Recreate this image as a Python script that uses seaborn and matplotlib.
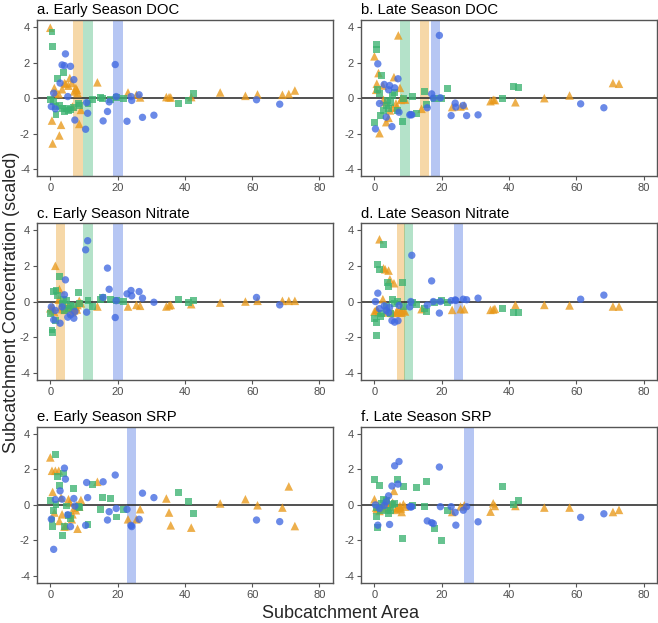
import numpy as np
import pandas as pd
import seaborn as sns
import matplotlib.pyplot as plt

nan = np.nan

# subcatchment areas of each site type (same sites in every panel)
blue_area = [0.3, 1.0, 1.5, 2.9, 3.5, 4.2, 4.5, 5.2, 6.0, 7.0, 7.3, 10.5, 10.8, 11.1, 15.7, 17.0,
             17.5, 19.3, 19.6, 22.8, 24.0, 24.2, 26.4, 27.4, 30.8, 61.3, 68.2]
green_area = [0.1, 0.5, 0.6, 0.9, 1.5, 1.7, 2.2, 2.7, 3.5, 3.9, 4.2, 4.8, 5.5, 6.1, 6.8, 8.4,
              8.6, 11.2, 12.6, 14.8, 15.5, 17.8, 19.8, 21.8, 38.0, 41.2, 42.7]
orange_area = [0.0, 0.5, 0.7, 1.2, 1.5, 2.5, 2.7, 3.2, 3.5, 4.2, 4.6, 5.4, 5.8, 6.4, 6.6, 7.1,
               7.6, 7.9, 8.1, 8.6, 9.1, 14.0, 23.1, 25.6, 26.7, 34.5, 35.3, 35.8, 41.9, 50.5,
               58.0, 61.6, 69.0, 70.9, 72.7]

# scaled concentrations per panel
a_blue = [-0.47, 0.28, -0.6, 0.85, 1.87, 1.83, 2.49, 0.09, 1.79, 1.04, -1.23, -1.75, -0.25, -0.85,
          -1.28, -0.75, -0.21, 1.89, 0.09, -1.3, 0.09, -0.13, 0.19, -1.08, -0.96, -0.09, -0.34]
a_green = [-0.09, 3.72, 2.89, -0.19, -0.47, -0.94, 1.09, -0.43, -0.57, 1.45, -0.75, -0.57, -0.7,
           -0.66, -0.51, -0.28, -0.43, -0.28, -0.09, 0.06, -0.04, -0.09, 0.06, -0.04, -0.28, -0.13, 0.28]
a_orange = [3.96, -1.26, -2.55, 0.57, 0.3, 0.23, -2.1, -1.5, 0.5, 0.85, 0.8, 0.7, 1.13, 0.85, -0.47,
            0.38, 0.57, 0.47, 0.28, -1.45, -0.66, 0.89, 0.32, 0.19, 0.04, 0.06, 0.05, 0.04, 0.06,
            0.32, 0.13, 0.21, 0.19, 0.23, 0.43]

b_blue = [-1.73, 1.93, -0.3, 0.77, -1.07, 0.47, 0.71, -1.6, 0.58, 1.09, -0.79, -0.94, -0.92, -0.94,
          -0.54, 0.24, 0.0, 3.53, 0.02, -0.98, -0.28, -0.5, -0.41, -0.98, -0.94, -0.32, -0.54]
b_green = [-1.35, 3.02, 2.72, 0.47, 0.24, -0.98, 1.28, -0.69, -0.4, -0.13, -0.6, -0.23, 0.15, 0.3,
           -0.69, -1.3, 0.0, 0.11, -0.85, 0.38, -0.38, 0.0, 0.0, 0.56, 0.0, 0.66, 0.58]
b_orange = [2.35, 0.47, 0.81, 1.41, -1.97, 0.71, -0.09, -0.23, -1.35, -1.11, -0.69, -0.54, 1.18,
            -0.3, -0.5, 3.53, 0.58, -0.1, 0.0, -0.05, -0.08, -0.6, -0.5, -0.47, -0.41, -0.17,
            -0.09, -0.11, -0.23, 0.0, 0.15, nan, nan, 0.85, 0.81]

c_blue = [-0.3, -1.03, -0.5, -1.22, -0.3, 0.38, 1.22, -0.88, -0.75, -0.94, -0.56, 2.91, -0.6, 3.42,
          0.23, 1.88, 0.69, -0.9, 0.05, 0.43, 0.62, 0.32, 0.56, 0.19, -0.04, 0.23, -0.19]
c_green = [-0.66, -1.6, -1.75, 0.56, -1.07, 0.6, 0.32, 1.41, -0.1, 0.1, -0.5, 0.04, -0.38, -0.2,
           -0.28, 0.53, -0.1, 0.04, -0.28, 0.1, 0.23, 0.13, 0.04, 0.0, 0.1, -0.04, 0.04]
c_orange = [-0.38, -0.5, -0.3, -0.6, 2.01, 0.1, 0.69, -0.28, -0.43, -0.47, -0.3, -0.19, -0.38,
            -0.43, -0.6, -0.5, -0.3, -0.45, -0.2, 0.04, -0.1, -0.28, -0.28, -0.19, -0.24, -0.28,
            -0.22, -0.19, -0.15, -0.06, 0.0, 0.04, 0.04, 0.04, 0.04]

d_blue = [0.0, 0.47, -0.4, -0.24, -0.5, -0.62, -0.32, -1.07, -1.16, -1.08, -0.22, -0.3, 0.0, 2.6,
          -0.2, 1.16, 0.0, -0.65, 0.0, 0.05, 0.09, 0.06, 0.13, 0.1, 0.19, 0.13, 0.36]
d_green = [-0.93, -1.93, -1.16, 2.06, 1.78, -0.84, -0.65, 3.21, -0.28, 1.07, 0.84, -0.69, 0.09,
           -0.1, 0.0, 1.07, -0.28, -0.04, -0.19, -0.37, -0.56, -0.04, 0.05, -0.04, -0.37, -0.6, -0.6]
d_orange = [-0.56, -0.5, -0.45, -0.6, 3.5, 0.13, 1.87, 1.81, -0.62, 1.74, 1.25, -0.65, 1.03, -0.62,
            -0.56, -0.55, -0.62, -0.5, -0.62, -0.5, -0.56, -0.43, -0.47, -0.43, -0.43, -0.47,
            -0.45, -0.41, -0.19, -0.19, -0.22, nan, nan, -0.28, -0.28]

e_blue = [-0.8, -2.5, 0.3, 0.79, 0.32, 2.07, 1.45, -0.55, -1.22, 0.36, -0.06, -1.15, 1.26, 0.41,
          1.3, -0.85, -0.38, 1.68, -0.2, -0.25, -1.15, -1.22, -0.81, 0.66, 0.41, -0.85, -0.94]
e_green = [0.26, -0.85, -1.22, -0.34, 2.86, 0.04, 1.6, 1.07, -1.7, 1.79, -1.19, -0.06, -0.62, -0.77,
           0.92, -0.09, -0.12, -1.09, 1.13, -0.28, 0.41, 0.36, -0.68, -0.25, 0.7, 0.19, -0.47]
e_orange = [2.67, 1.92, 0.73, -0.43, 1.92, 1.92, -0.9, 0.41, -0.53, -1.22, -1.19, 0.32, 0.13,
            -0.81, -0.53, -0.15, -0.3, 0.0, -1.34, -0.1, 0.28, 1.3, -0.81, -0.81, -0.24, 0.36,
            -0.43, -1.15, -1.28, 0.08, 0.32, -0.02, -0.15, 1.04, -1.19]

f_blue = [0.0, -1.14, -0.2, -0.03, 0.18, 0.51, -1.1, 1.06, 2.2, 1.17, 2.44, -0.1, -0.12, -0.1,
          -0.9, -1.0, -1.05, 2.13, -0.1, -0.1, -0.42, -1.14, -0.3, -0.1, -0.95, -0.7, -0.5]
f_green = [1.41, -0.66, -0.15, -1.28, 1.07, -0.34, 0.1, 0.32, 0.26, -0.3, -0.47, -0.34, 0.04, 0.1,
           1.41, -1.9, 1.02, -0.05, 0.96, -0.1, 1.32, -1.34, -1.98, -0.34, 1.02, 0.0, 0.23]
f_orange = [0.32, -0.15, -0.24, -0.1, -0.34, -0.06, -0.2, 0.0, -0.02, 0.13, -0.1, 0.13, 0.79,
            -0.28, -0.2, -0.15, -0.06, -0.2, -0.4, 0.04, -0.1, nan, -0.4, -0.09, -0.02, -0.38,
            0.09, -0.06, -0.06, -0.15, -0.15, nan, nan, -0.4, -0.28]

# threshold ranges (type, low, high) shown as shaded bands
a_bands = [('orange', 6.6, 9.6), ('green', 9.8, 12.6), ('blue', 18.7, 21.6)]
b_bands = [('green', 7.6, 10.6), ('orange', 13.6, 16.3), ('blue', 16.7, 19.5)]
c_bands = [('orange', 1.7, 4.5), ('green', 9.8, 12.6), ('blue', 18.7, 21.6)]
d_bands = [('orange', 6.6, 9.1), ('green', 8.8, 11.6), ('blue', 23.6, 26.4)]
e_bands = [('blue', 22.7, 25.5)]
f_bands = [('blue', 26.6, 29.6)]

titles = ['a. Early Season DOC', 'b. Late Season DOC',
          'c. Early Season Nitrate', 'd. Late Season Nitrate',
          'e. Early Season SRP', 'f. Late Season SRP']
panel_data = [(a_blue, a_green, a_orange, a_bands), (b_blue, b_green, b_orange, b_bands),
              (c_blue, c_green, c_orange, c_bands), (d_blue, d_green, d_orange, d_bands),
              (e_blue, e_green, e_orange, e_bands), (f_blue, f_green, f_orange, f_bands)]

palette = {'blue': '#4169E1', 'green': '#3CB371', 'orange': '#E8991A'}
markers = {'blue': 'o', 'green': 's', 'orange': '^'}
sizes = {'blue': 28, 'green': 25, 'orange': 38}

sns.set_theme(style='white')
plt.rcParams['font.family'] = ['Liberation Sans', 'DejaVu Sans']
plt.rcParams['axes.unicode_minus'] = False

fig, axes = plt.subplots(3, 2, figsize=(6.58, 6.23), dpi=100)
fig.subplots_adjust(left=0.056, right=0.9985, top=0.968, bottom=0.064, wspace=0.095, hspace=0.30)

for ax, title, (yb, yg, yo, bands) in zip(axes.flat, titles, panel_data):
    df = pd.concat([
        pd.DataFrame({'area': orange_area, 'conc': yo, 'type': 'orange'}),
        pd.DataFrame({'area': green_area, 'conc': yg, 'type': 'green'}),
        pd.DataFrame({'area': blue_area, 'conc': yb, 'type': 'blue'}),
    ], ignore_index=True).dropna()

    for kind, lo, hi in bands:
        ax.axvspan(lo, hi, color=palette[kind], alpha=0.38, lw=0, zorder=0)
    ax.axhline(0, color='#222222', lw=1.1, zorder=1)

    sns.scatterplot(data=df, x='area', y='conc', hue='type', style='type', size='type',
                    sizes=sizes, palette=palette, markers=markers, alpha=0.78,
                    edgecolor='none', legend=False, ax=ax, zorder=2)

    ax.set_xlim(-4, 84)
    ax.set_ylim(-4.4, 4.4)
    ax.set_xticks([0, 20, 40, 60, 80])
    ax.set_yticks([-4, -2, 0, 2, 4])
    ax.set_xlabel('')
    ax.set_ylabel('')
    ax.set_title(title, loc='left', fontsize=10.7, pad=4, color='black')
    ax.tick_params(axis='both', length=3, width=0.8, color='#555555', labelsize=8,
                   labelcolor='#4d4d4d', pad=2, bottom=True, left=True)
    for sp in ax.spines.values():
        sp.set_color('#555555')
        sp.set_linewidth(1.0)

fig.text(0.017, 0.515, 'Subcatchment Concentration (scaled)', rotation=90,
         ha='center', va='center', fontsize=13)
fig.text(0.517, 0.015, 'Subcatchment Area', ha='center', va='center', fontsize=13)

fig.savefig('out.png', dpi=100)
